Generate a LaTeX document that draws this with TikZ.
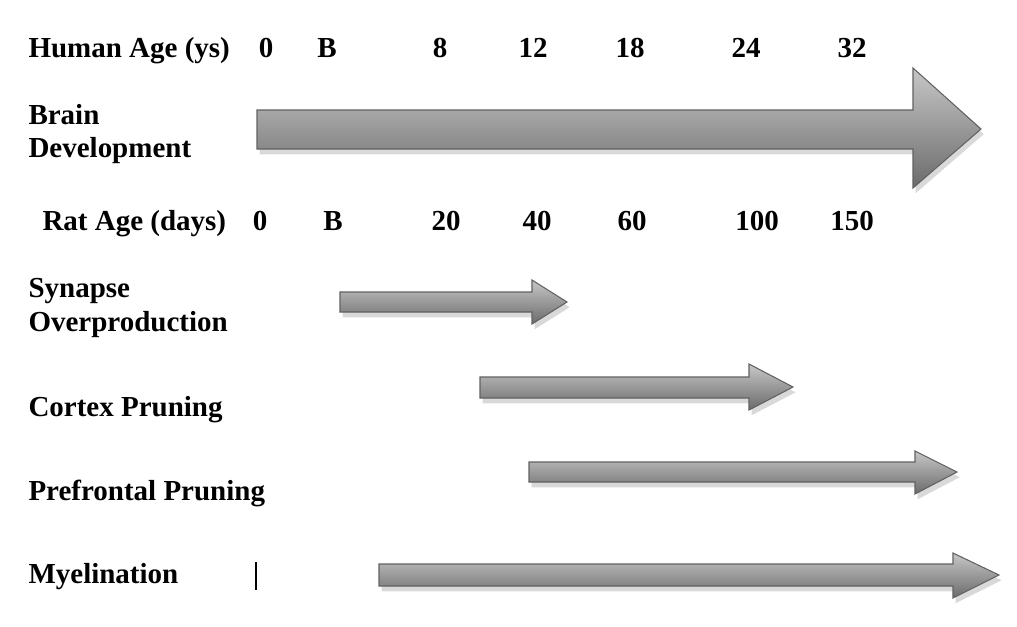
\documentclass[tikz,border=0pt]{standalone}
\usepackage{fontspec}
\setmainfont{Liberation Serif}
\usetikzlibrary{shadows}

\begin{document}
\begin{tikzpicture}[x=0.02cm,y=-0.02cm,line width=0.6pt,
  lbl/.style={font=\fontsize{16.5}{19}\selectfont\bfseries,inner sep=0pt,align=left},
  tarr/.style={draw=black!62,top color=black!22,bottom color=black!58,
    drop shadow={shadow xshift=1.5pt,shadow yshift=-3pt,opacity=0.3}}]
\useasboundingbox (0,0) rectangle (1017,626);
% 人类年龄刻度
\node[lbl,anchor=base west] (human) at (28,57) {Human Age (ys)};
\foreach \x/\t in {266/0,327/B,440/8,533/12,630/18,746/24,852/32}
  \node[lbl,anchor=base] at (\x,57) {\t};
% 大脑发育（大箭头）
\node[lbl,anchor=west] (brain) at (28,134) {Brain\\Development};
\draw[tarr] (257,110) -- (913,110) -- (913,68) -- (981,129) -- (913,188) -- (913,149) -- (257,149) -- cycle;
% 大鼠年龄刻度
\node[lbl,anchor=base west] (rat) at (42,230) {Rat Age (days)};
\foreach \x/\t in {260/0,333/B,446/20,537/40,632/60,757/100,852/150}
  \node[lbl,anchor=base] at (\x,230) {\t};
% 突触过度生成
\node[lbl,anchor=west] (syn) at (28,308) {Synapse\\Overproduction};
\draw[tarr] (340,292) -- (532,292) -- (532,280) -- (567,302) -- (532,324) -- (532,312) -- (340,312) -- cycle;
% 皮层修剪
\node[lbl,anchor=base west] (cortex) at (28,416) {Cortex Pruning};
\draw[tarr] (480,377) -- (749,377) -- (749,364) -- (793,387) -- (749,410) -- (749,398) -- (480,398) -- cycle;
% 前额叶修剪
\node[lbl,anchor=base west] (pfc) at (28,500) {Prefrontal Pruning};
\draw[tarr] (529,462) -- (915,462) -- (915,451) -- (957,472) -- (915,494) -- (915,482) -- (529,482) -- cycle;
% 髓鞘形成
\node[lbl,anchor=base west] (myel) at (28,583) {Myelination};
\draw[line width=1.1pt] (256,562) -- (256,590);
\draw[tarr] (379,564) -- (953,564) -- (953,553) -- (999,575) -- (953,598) -- (953,586) -- (379,586) -- cycle;
\end{tikzpicture}
\end{document}
